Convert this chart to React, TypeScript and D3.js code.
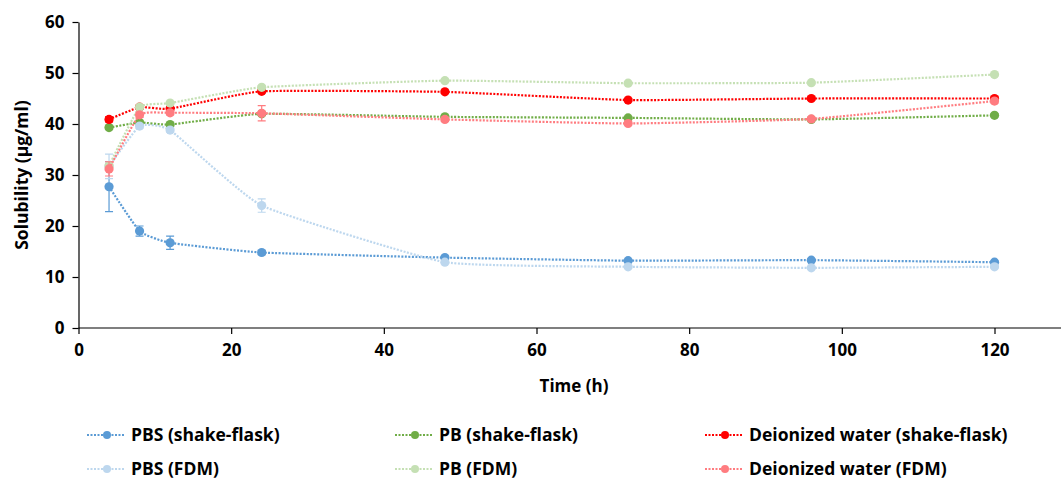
import React, { useEffect, useRef } from 'react';
import * as d3 from 'd3';

// time points (h)
const times = [4, 8, 12, 24, 48, 72, 96, 120];

const pbsShake = [27.7, 19.0, 16.7, 14.8, 13.8, 13.2, 13.3, 12.9];
const pbsShakeErr = [4.9, 1.0, 1.3, 0.4, 0.3, 0.2, 0.2, 0.2];
const pbShake = [39.3, 40.3, 39.9, 42.0, 41.4, 41.2, 40.9, 41.7];
const pbShakeErr = [0.3, 0.3, 0.3, 0.3, 0.3, 0.2, 0.2, 0.3];
const diShake = [40.9, 43.3, 43.0, 46.4, 46.3, 44.7, 45.0, 45.0];
const diShakeErr = [0.5, 0.4, 0.3, 0.3, 0.3, 0.3, 0.3, 0.3];
const pbsFdm = [31.7, 39.6, 38.8, 24.0, 12.9, 12.0, 11.8, 12.0];
const pbsFdmErr = [2.4, 0.4, 0.4, 1.3, 0.3, 0.2, 0.2, 0.2];
const pbFdm = [31.8, 43.3, 44.1, 47.2, 48.5, 48.0, 48.1, 49.7];
const pbFdmErr = [0.4, 0.4, 0.3, 0.3, 0.3, 0.2, 0.2, 0.2];
const diFdm = [31.2, 41.8, 42.2, 42.1, 40.9, 40.1, 41.0, 44.5];
const diFdmErr = [1.4, 0.5, 0.4, 1.5, 0.4, 0.3, 0.3, 0.4];

const seriesNames = [
  'PBS (shake-flask)',
  'PB (shake-flask)',
  'Deionized water (shake-flask)',
  'PBS (FDM)',
  'PB (FDM)',
  'Deionized water (FDM)',
];
const seriesColors = ['#5B9BD5', '#70AD47', '#FF0000', '#BDD7EE', '#C5E0B4', '#FF7C80'];
const seriesValues = [pbsShake, pbShake, diShake, pbsFdm, pbFdm, diFdm];
const seriesErrors = [pbsShakeErr, pbShakeErr, diShakeErr, pbsFdmErr, pbFdmErr, diFdmErr];

const xTicks = [0, 20, 40, 60, 80, 100, 120];
const yTicks = [0, 10, 20, 30, 40, 50, 60];

const FONT = '"Open Sans", Lato, sans-serif';

export default function App() {
  const ref = useRef<SVGSVGElement>(null);

  useEffect(() => {
    const svg = d3.select(ref.current);
    svg.selectAll('*').remove();

    const width = 1061;
    const height = 480;
    const margin = { left: 78.5, top: 22, bottom: 152 };

    const x = d3.scaleLinear().domain([0, 120]).range([margin.left, 994.5]);
    const y = d3.scaleLinear().domain([0, 60]).range([height - margin.bottom, margin.top]);

    // y axis
    const yAxis = svg.append('g').attr('transform', `translate(${margin.left},0)`)
      .call(d3.axisLeft(y).tickValues(yTicks).tickSize(6).tickPadding(8).tickSizeOuter(0));
    yAxis.select('.domain').attr('stroke', '#000').attr('stroke-width', 1.2);
    yAxis.selectAll('line').attr('stroke', '#000').attr('stroke-width', 1.2);
    yAxis.selectAll('text').attr('font-family', FONT).attr('font-weight', 'bold')
      .attr('font-size', 17).attr('fill', '#000');

    // x axis (line extends to the right edge)
    const xAxis = svg.append('g').attr('transform', `translate(0,${y(0)})`)
      .call(d3.axisBottom(x).tickValues(xTicks).tickSize(6).tickPadding(10).tickSizeOuter(0));
    xAxis.select('.domain').attr('d', `M${margin.left},0H${width}`)
      .attr('stroke', '#000').attr('stroke-width', 1.2);
    xAxis.selectAll('line').attr('stroke', '#000').attr('stroke-width', 1.2);
    xAxis.selectAll('text').attr('font-family', FONT).attr('font-weight', 'bold')
      .attr('font-size', 17).attr('fill', '#000');

    // axis titles
    svg.append('text')
      .attr('x', 574).attr('y', 392)
      .attr('text-anchor', 'middle')
      .attr('font-family', FONT).attr('font-weight', 'bold').attr('font-size', 17)
      .text('Time (h)');
    svg.append('text')
      .attr('transform', 'translate(28,175) rotate(-90)')
      .attr('text-anchor', 'middle')
      .attr('font-family', FONT).attr('font-weight', 'bold').attr('font-size', 17.5)
      .text('Solubility (µg/ml)');

    // Excel-style light smoothing
    const line = d3.line<number>()
      .x((d, i) => x(times[i]))
      .y(d => y(d))
      .curve(d3.curveCardinal.tension(0.6));

    seriesValues.forEach((vals, s) => {
      const color = seriesColors[s];
      const g = svg.append('g');
      g.append('path')
        .attr('d', line(vals))
        .attr('fill', 'none')
        .attr('stroke', color)
        .attr('stroke-width', 2.2)
        .attr('stroke-dasharray', '2 1.5');

      // error bars
      vals.forEach((v, i) => {
        const e = seriesErrors[s][i];
        const cx = x(times[i]);
        g.append('path')
          .attr('d', `M${cx},${y(v - e)}V${y(v + e)}M${cx - 4},${y(v - e)}H${cx + 4}M${cx - 4},${y(v + e)}H${cx + 4}`)
          .attr('stroke', color)
          .attr('stroke-width', 1.2)
          .attr('fill', 'none');
      });

      g.selectAll('circle')
        .data(vals)
        .enter()
        .append('circle')
        .attr('cx', (d, i) => x(times[i]))
        .attr('cy', d => y(d))
        .attr('r', 4.6)
        .attr('fill', color);
    });

    // legend
    const colX = [87, 395, 705];
    const rowY = [435, 469];
    seriesNames.forEach((name, s) => {
      const cx = colX[s % 3];
      const cy = rowY[Math.floor(s / 3)];
      const g = svg.append('g').attr('transform', `translate(${cx},${cy})`);
      g.append('line')
        .attr('x1', 0).attr('x2', 37)
        .attr('stroke', seriesColors[s])
        .attr('stroke-width', 2)
        .attr('stroke-dasharray', '2 1.5');
      g.append('circle').attr('cx', 20).attr('r', 4).attr('fill', seriesColors[s]);
      g.append('text')
        .attr('x', 44).attr('y', 0).attr('dy', '0.35em')
        .attr('font-family', FONT).attr('font-weight', 'bold').attr('font-size', 17.5)
        .attr('fill', '#000')
        .text(name);
    });
  }, []);

  return (
    <svg
      ref={ref}
      width={1061}
      height={480}
      style={{ position: 'absolute', left: 0, top: 0, background: '#fff' }}
    />
  );
}
